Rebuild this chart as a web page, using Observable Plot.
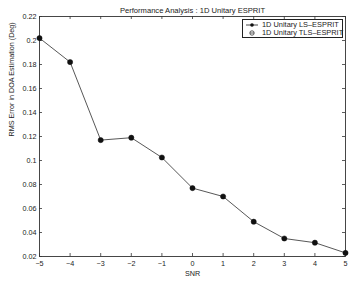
<!DOCTYPE html>
<html>
<head>
<meta charset="utf-8">
<script src="https://cdn.jsdelivr.net/npm/d3@7"></script>
<script src="https://cdn.jsdelivr.net/npm/@observablehq/plot@0.6"></script>
<style>
  html, body { margin: 0; padding: 0; background: #fff; }
  #wrap { position: relative; width: 356px; height: 282px; font-family: "Liberation Sans", Arial, sans-serif; }
  #legend { position: absolute; left: 242px; top: 19px; width: 99px; height: 17px; border: 1px solid #222; background: #fff; font-size: 7.4px; color: #222; }
  #legend .row { position: absolute; left: 0; height: 8px; line-height: 8px; }
  #legend .lbl { position: absolute; left: 19px; white-space: nowrap; }
  #legend svg { position: absolute; left: 2px; top: 0; }
</style>
</head>
<body>
<div id="wrap"></div>
<script>
const snr = [-5, -4, -3, -2, -1, 0, 1, 2, 3, 4, 5];
const rmsLS = [0.202, 0.182, 0.117, 0.119, 0.1025, 0.077, 0.070, 0.049, 0.035, 0.0315, 0.023];
const xTicks = [-5, -4, -3, -2, -1, 0, 1, 2, 3, 4, 5];
const yTicks = [0.02, 0.04, 0.06, 0.08, 0.1, 0.12, 0.14, 0.16, 0.18, 0.2, 0.22];
const seriesNames = ["1D Unitary LS\u2013ESPRIT", "1D Unitary TLS\u2013ESPRIT"];
const titleText = "Performance Analysis : 1D Unitary ESPRIT";
const xLabel = "SNR";
const yLabel = "RMS Error in DOA Estimation (Deg)";

const data = snr.map((s, i) => ({snr: s, rms: rmsLS[i]}));

const W = 356, H = 282, ml = 39, mr = 11, mt = 16, mb = 26;
const fw = W - ml - mr, fh = H - mt - mb;
const tk = 3;

const chart = Plot.plot({
  width: W, height: H,
  marginLeft: ml, marginRight: mr, marginTop: mt, marginBottom: mb,
  style: {fontFamily: "Liberation Sans, Arial, sans-serif", fontSize: "7.2px", color: "#222", background: "#fff"},
  x: {domain: [-5, 5]},
  y: {domain: [0.02, 0.22]},
  marks: [
    Plot.frame({stroke: "#333", strokeWidth: 0.9}),
    Plot.axisX(xTicks, {tickSize: 0, tickPadding: 4, tickFormat: d => d < 0 ? "\u2212" + Math.abs(d) : String(d), label: null, fill: "#222"}),
    Plot.axisY(yTicks, {tickSize: 0, tickPadding: 3, tickFormat: d => String(+d.toFixed(2)), label: null, fill: "#222"}),
    Plot.tickX(xTicks, {x: d => d, insetTop: fh - tk, stroke: "#333", strokeWidth: 0.8}),
    Plot.tickX(xTicks, {x: d => d, insetBottom: fh - tk, stroke: "#333", strokeWidth: 0.8}),
    Plot.tickY(yTicks, {y: d => d, insetRight: fw - tk, stroke: "#333", strokeWidth: 0.8}),
    Plot.tickY(yTicks, {y: d => d, insetLeft: fw - tk, stroke: "#333", strokeWidth: 0.8}),
    Plot.line(data, {x: "snr", y: "rms", stroke: "#444", strokeWidth: 0.9}),
    Plot.dot(data, {x: "snr", y: "rms", r: 2.6, fill: "#111", stroke: "#111", strokeWidth: 0.5}),
    Plot.text([titleText], {frameAnchor: "top", dy: -9, fontSize: 7.6, fill: "#222"}),
    Plot.text([xLabel], {frameAnchor: "bottom", dy: 19, fontSize: 7.2, fill: "#222"}),
    Plot.text([yLabel], {frameAnchor: "left", dx: -28, rotate: -90, fontSize: 7.2, fill: "#222"})
  ]
});

const wrap = document.getElementById("wrap");
wrap.appendChild(chart);

const legend = document.createElement("div");
legend.id = "legend";
seriesNames.forEach((name, i) => {
  const row = document.createElement("div");
  row.className = "row";
  row.style.top = (i * 7.5 + 1) + "px";
  row.style.width = "99px";
  const sw = i === 0
    ? '<svg width="14" height="8"><line x1="1" y1="4" x2="13" y2="4" stroke="#333" stroke-width="0.9"/><circle cx="7" cy="4" r="1.8" fill="#111"/></svg>'
    : '<svg width="14" height="8"><circle cx="7" cy="4" r="2.2" fill="none" stroke="#333" stroke-width="0.8"/><line x1="5" y1="4" x2="9" y2="4" stroke="#333" stroke-width="0.8"/></svg>';
  row.innerHTML = sw + '<span class="lbl">' + name + '</span>';
  legend.appendChild(row);
});
wrap.appendChild(legend);
</script>
</body>
</html>
